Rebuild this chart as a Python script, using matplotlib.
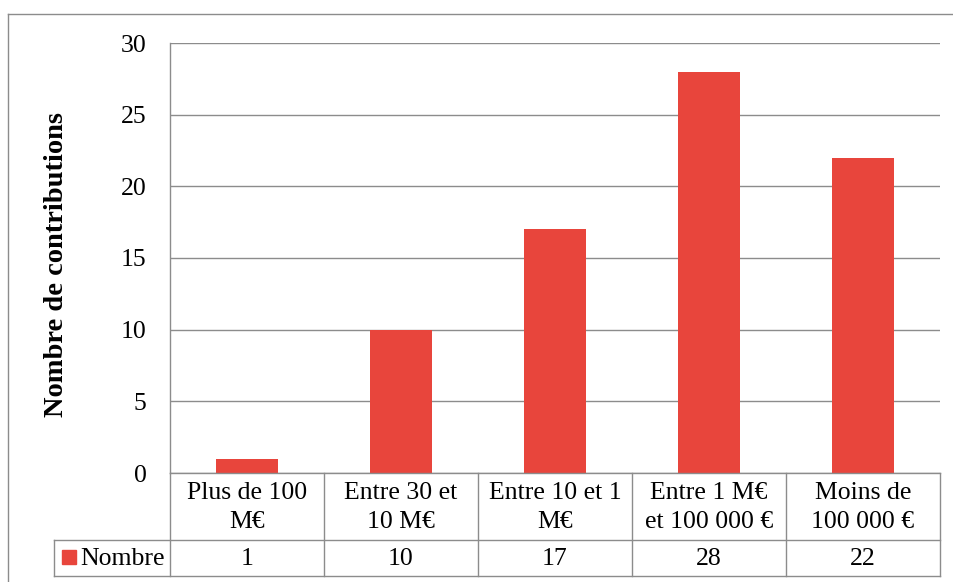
import matplotlib
matplotlib.use("Agg")
import matplotlib.pyplot as plt
from matplotlib.transforms import blended_transform_factory
from matplotlib.lines import Line2D
from matplotlib.patches import Rectangle

categories = ["Plus de 100\nM€", "Entre 30 et\n10 M€", "Entre 10 et 1\nM€",
              "Entre 1 M€\net 100 000 €", "Moins de\n100 000 €"]
values = [1, 10, 17, 28, 22]
series_name = "Nombre"
y_ticks = [0, 5, 10, 15, 20, 25, 30]
y_label = "Nombre de contributions"

BAR = "#E8453C"
GRID = "#8C8C8C"
FONT = "Liberation Serif"
FS = 18.5

W, H = 954, 582
fig = plt.figure(figsize=(W / 100, H / 100), dpi=100)

def fx(px):
    return px / W

def fy(py):
    return 1 - py / H

# plot area
ax_l, ax_r, ax_t, ax_b = 170, 940, 43, 473
ax = fig.add_axes([fx(ax_l), fy(ax_b), fx(ax_r) - fx(ax_l), fy(ax_t) - fy(ax_b)])
x = list(range(len(values)))
ax.bar(x, values, width=0.4, color=BAR, zorder=3)
ax.set_xlim(-0.5, len(values) - 0.5)
ax.set_ylim(0, 30)
ax.set_yticks(y_ticks)
ax.set_yticklabels([str(t) for t in y_ticks], fontfamily=FONT, fontsize=FS)
ax.tick_params(axis="y", length=0, pad=17)
ax.set_xticks([])
ax.yaxis.grid(True, color=GRID, linewidth=1.0, zorder=0)
for s in ("top", "right", "bottom"):
    ax.spines[s].set_visible(False)
ax.spines["left"].set_color(GRID)
ax.spines["left"].set_linewidth(1.0)

# axis title
fig.text(fx(57), fy(265), y_label, rotation=90, ha="center", va="center",
         fontfamily=FONT, fontsize=20.5, fontweight="bold")

# data table under the axes: x in data units, y in figure units
tr = blended_transform_factory(ax.transData, fig.transFigure)
trf = fig.transFigure
row1, row2, row3 = 473, 540, 576
leg_l = 54

def hline(x0, x1, y):
    fig.add_artist(Line2D([fx(x0), fx(x1)], [fy(y), fy(y)], transform=trf,
                          color=GRID, linewidth=1.0))

def vline(xd, y0, y1):
    fig.add_artist(Line2D([xd, xd], [fy(y0), fy(y1)], transform=tr,
                          color=GRID, linewidth=1.0))

hline(ax_l, ax_r, row1)
hline(leg_l, ax_r, row2)
hline(leg_l, ax_r, row3)
for i in range(len(values) + 1):
    vline(i - 0.5, row1, row3)
fig.add_artist(Line2D([fx(leg_l), fx(leg_l)], [fy(row2), fy(row3)], transform=trf,
                      color=GRID, linewidth=1.0))

for i, (c, v) in enumerate(zip(categories, values)):
    fig.text(i, fy((row1 + row2) / 2 + 1), c, transform=tr, ha="center", va="center",
             fontfamily=FONT, fontsize=FS, linespacing=1.45)
    fig.text(i, fy((row2 + row3) / 2 + 1), str(v), transform=tr, ha="center", va="center",
             fontfamily=FONT, fontsize=FS)

# legend key in the table
fig.add_artist(Rectangle((fx(62), fy(564)), fx(76) - fx(62), fy(550) - fy(564),
                         transform=trf, color=BAR))
fig.text(fx(80), fy((row2 + row3) / 2 + 1), series_name, ha="left", va="center",
         fontfamily=FONT, fontsize=FS)

# chart frame
fig.add_artist(Line2D([fx(8), fx(8)], [fy(14), 0], transform=trf, color=GRID, linewidth=1.0))
fig.add_artist(Line2D([fx(8), 1], [fy(14), fy(14)], transform=trf, color=GRID, linewidth=1.0))

fig.savefig("out.png", dpi=100)
